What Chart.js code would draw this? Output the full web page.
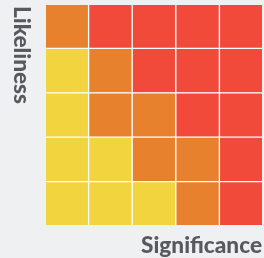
<!DOCTYPE html>
<html><head><meta charset="utf-8">
<script src="https://cdn.jsdelivr.net/npm/chart.js@4/dist/chart.umd.min.js"></script>
<style>html,body{margin:0;padding:0;background:#eef0f2;}#wrap{width:264px;height:258px;}</style>
</head><body><div id="wrap"><canvas id="c" width="264" height="258"></canvas></div>
<script>
// Columns = significance 1..5, rows = likeliness (1 = bottom .. 5 = top)
const significance = ['1','2','3','4','5'];
const likeliness = ['1','2','3','4','5'];
// risk level per cell: 1 = low (yellow), 2 = medium (orange), 3 = high (red)
const row1 = [1,1,1,2,3]; // bottom row
const row2 = [1,1,2,2,3];
const row3 = [1,2,2,3,3];
const row4 = [1,2,3,3,3];
const row5 = [2,3,3,3,3]; // top row
const rows = [row1,row2,row3,row4,row5];
const levelColors = {1:'#f2d43e', 2:'#e8812d', 3:'#f24a3a'};
const xTitle = 'Significance';
const yTitle = 'Likeliness';
const BG = '#eef0f2';

const titles = {
  id:'titles',
  beforeDraw(chart){
    const c = chart.ctx;
    c.save(); c.fillStyle = BG; c.fillRect(0,0,chart.width,chart.height); c.restore();
  },
  afterDatasetsDraw(chart){
    const c = chart.ctx, a = chart.chartArea;
    c.save();
    c.strokeStyle = BG; c.lineWidth = 2;
    c.strokeRect(a.left, a.top, a.right-a.left, a.bottom-a.top);
    c.restore();
  },
  afterDraw(chart){
    const c = chart.ctx, a = chart.chartArea;
    c.save();
    c.fillStyle = '#56595e';
    c.font = '900 22.6px Lato';
    c.textAlign = 'right'; c.textBaseline = 'alphabetic';
    c.fillText(xTitle, a.right - 1, 253);
    c.translate(14, 6);
    c.rotate(Math.PI/2);
    c.textAlign = 'left'; c.textBaseline = 'alphabetic';
    c.fillText(yTitle, 0, 0);
    c.restore();
  }
};

new Chart(document.getElementById('c'), {
  type:'bar',
  data:{
    labels: significance,
    datasets: rows.map((r,i)=>({
      label: likeliness[i],
      data: r.map(()=>1),
      backgroundColor: r.map(v=>levelColors[v]),
      borderColor:'#ffffff',
      borderWidth:1,
      borderSkipped:false,
      barPercentage:1,
      categoryPercentage:1
    }))
  },
  options:{
    responsive:false, animation:false, devicePixelRatio:1,
    layout:{padding:{left:45,top:4,right:1,bottom:32}},
    plugins:{legend:{display:false}, tooltip:{enabled:false}},
    scales:{
      x:{stacked:true, display:false},
      y:{stacked:true, display:false, min:0, max:5}
    }
  },
  plugins:[titles]
});
</script></body></html>
